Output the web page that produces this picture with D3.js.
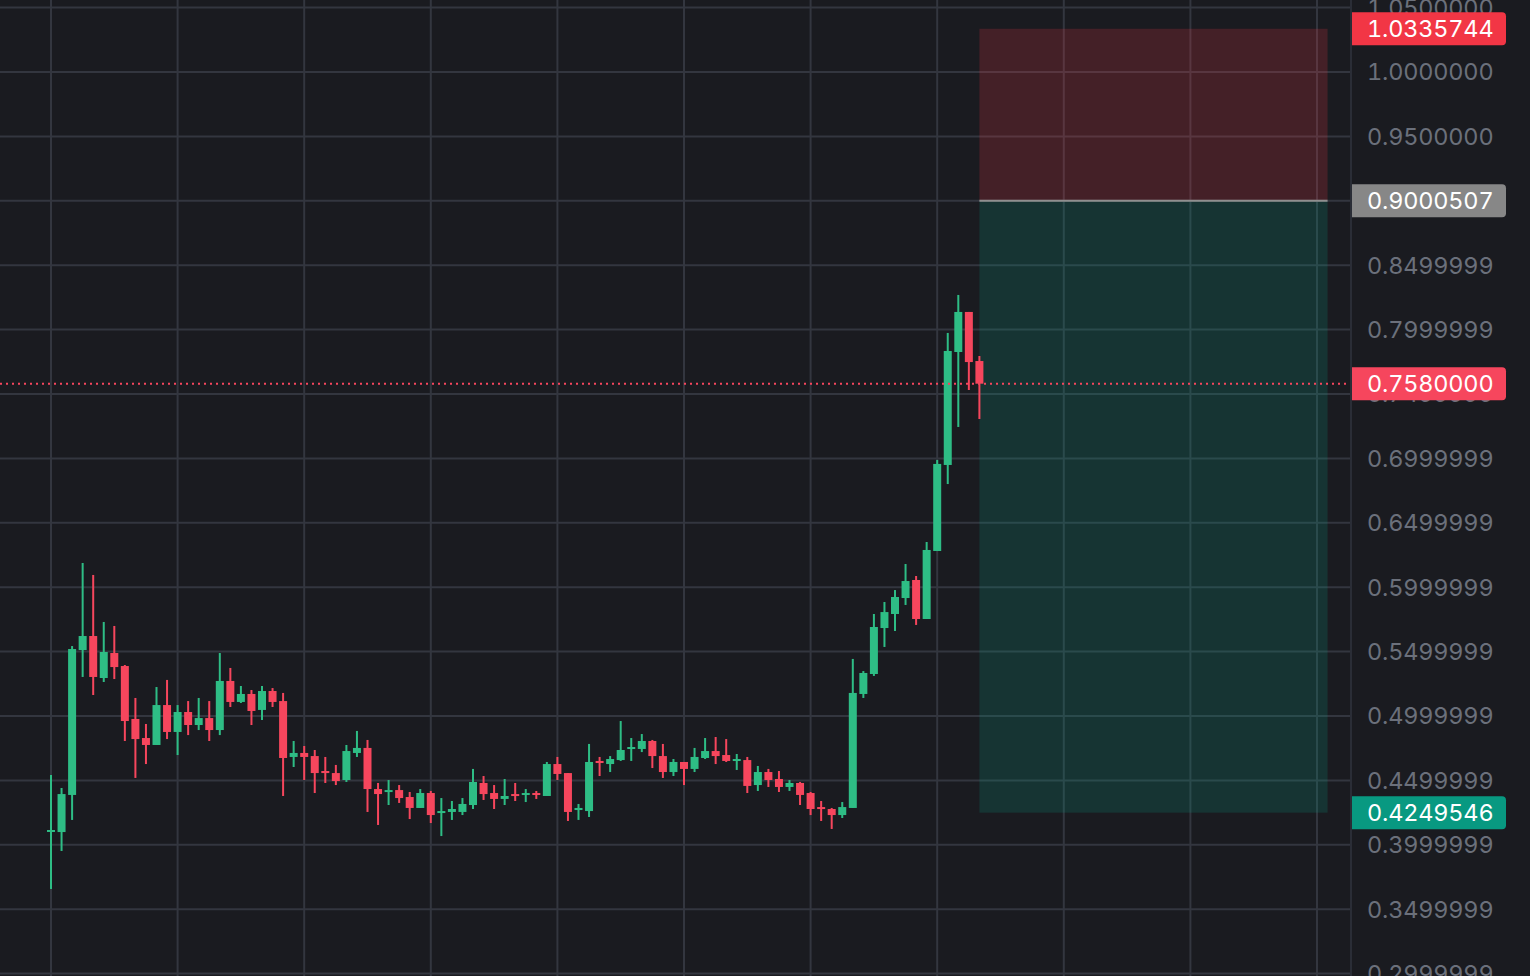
<!DOCTYPE html>
<html>
<head>
<meta charset="utf-8">
<script src="https://cdn.jsdelivr.net/npm/d3@7/dist/d3.min.js"></script>
<style>
	body { margin: 0; background: #1a1b20; overflow: hidden; }
	text { font-family: Inter, Roboto, 'Noto Sans', sans-serif; font-variant-numeric: tabular-nums; letter-spacing: -0.2px; }
</style>
</head>
<body>
<svg id="chart" width="1530" height="976"></svg>
<script>
// candles, oldest first
const opens = [
	0.4107, 0.4099, 0.4387, 0.5512, 0.5621, 0.5295, 0.5489, 0.5388, 0.4977, 0.4829,
	0.4775, 0.5085, 0.4876, 0.5031, 0.4930, 0.4984, 0.4891, 0.5272, 0.5109, 0.5171,
	0.5047, 0.5194, 0.5116, 0.4682, 0.4713, 0.4689, 0.4573, 0.4557, 0.4503, 0.4713,
	0.4752, 0.4433, 0.4410, 0.4425, 0.4371, 0.4286, 0.4402, 0.4247, 0.4255, 0.4255,
	0.4309, 0.4480, 0.4402, 0.4356, 0.4394, 0.4387, 0.4402, 0.4379, 0.4627, 0.4557,
	0.4270, 0.4262, 0.4651, 0.4627, 0.4658, 0.4744, 0.4744, 0.4806, 0.4689, 0.4565,
	0.4643, 0.4589, 0.4674, 0.4728, 0.4697, 0.4651, 0.4658, 0.4464, 0.4565, 0.4511,
	0.4449, 0.4480, 0.4402, 0.4293, 0.4278, 0.4231, 0.4286, 0.5171, 0.5326, 0.5683,
	0.5792, 0.5916, 0.6056, 0.5753, 0.6281, 0.6949, 0.7826, 0.8137, 0.7756
]
const highs = [
	0.4542, 0.4441, 0.5543, 0.6188, 0.6095, 0.5730, 0.5699, 0.5396, 0.5140, 0.4938,
	0.5225, 0.5280, 0.5085, 0.5116, 0.5140, 0.5116, 0.5489, 0.5373, 0.5233, 0.5202,
	0.5233, 0.5217, 0.5179, 0.4806, 0.4767, 0.4736, 0.4682, 0.4620, 0.4775, 0.4884,
	0.4814, 0.4480, 0.4503, 0.4464, 0.4410, 0.4433, 0.4418, 0.4363, 0.4340, 0.4363,
	0.4589, 0.4534, 0.4464, 0.4511, 0.4480, 0.4433, 0.4418, 0.4643, 0.4682, 0.4557,
	0.4317, 0.4783, 0.4682, 0.4689, 0.4961, 0.4829, 0.4860, 0.4814, 0.4783, 0.4666,
	0.4643, 0.4752, 0.4829, 0.4837, 0.4821, 0.4705, 0.4682, 0.4612, 0.4589, 0.4573,
	0.4503, 0.4488, 0.4410, 0.4340, 0.4286, 0.4332, 0.5443, 0.5349, 0.5792, 0.5885,
	0.5978, 0.6180, 0.6087, 0.6351, 0.6988, 0.7974, 0.8269, 0.8137, 0.7795
]
const lows = [
	0.3657, 0.3952, 0.4193, 0.5303, 0.5163, 0.5264, 0.5287, 0.4806, 0.4519, 0.4627,
	0.4775, 0.4821, 0.4697, 0.4852, 0.4891, 0.4806, 0.4852, 0.5070, 0.5101, 0.4930,
	0.4969, 0.5070, 0.4379, 0.4604, 0.4503, 0.4402, 0.4480, 0.4464, 0.4488, 0.4682,
	0.4255, 0.4154, 0.4309, 0.4325, 0.4200, 0.4286, 0.4169, 0.4068, 0.4193, 0.4231,
	0.4278, 0.4348, 0.4278, 0.4309, 0.4340, 0.4332, 0.4356, 0.4379, 0.4503, 0.4185,
	0.4193, 0.4216, 0.4534, 0.4565, 0.4651, 0.4651, 0.4720, 0.4596, 0.4519, 0.4534,
	0.4464, 0.4565, 0.4666, 0.4627, 0.4643, 0.4581, 0.4402, 0.4418, 0.4449, 0.4410,
	0.4418, 0.4309, 0.4231, 0.4185, 0.4123, 0.4208, 0.4286, 0.5140, 0.5311, 0.5536,
	0.5660, 0.5862, 0.5707, 0.5753, 0.6281, 0.6801, 0.7244, 0.7531, 0.7306
]
const closes = [
	0.4115, 0.4394, 0.5520, 0.5621, 0.5303, 0.5497, 0.5380, 0.4961, 0.4821, 0.4775,
	0.5085, 0.4876, 0.5031, 0.4930, 0.4984, 0.4891, 0.5272, 0.5109, 0.5171, 0.5039,
	0.5194, 0.5109, 0.4674, 0.4713, 0.4682, 0.4557, 0.4557, 0.4495, 0.4728, 0.4752,
	0.4433, 0.4394, 0.4425, 0.4363, 0.4286, 0.4402, 0.4231, 0.4262, 0.4278, 0.4317,
	0.4488, 0.4394, 0.4356, 0.4379, 0.4379, 0.4402, 0.4387, 0.4627, 0.4550, 0.4255,
	0.4286, 0.4643, 0.4635, 0.4666, 0.4736, 0.4759, 0.4806, 0.4689, 0.4565, 0.4643,
	0.4589, 0.4682, 0.4728, 0.4689, 0.4651, 0.4666, 0.4457, 0.4565, 0.4503, 0.4449,
	0.4480, 0.4387, 0.4278, 0.4278, 0.4231, 0.4293, 0.5179, 0.5334, 0.5691, 0.5807,
	0.5924, 0.6048, 0.5753, 0.6289, 0.6957, 0.7834, 0.8137, 0.7748, 0.7580
]

// price axis
const tickValues = [1.05, 1.0, 0.95, 0.9, 0.85, 0.8, 0.75, 0.7, 0.65, 0.6, 0.55, 0.5, 0.45, 0.4, 0.35, 0.3]
const tickLabels = [
	'1.0500000', '1.0000000', '0.9500000', '0.8999999', '0.8499999', '0.7999999', '0.7499999', '0.6999999',
	'0.6499999', '0.5999999', '0.5499999', '0.4999999', '0.4499999', '0.3999999', '0.3499999', '0.2999999'
]

// short position tool
const stopPrice = 1.0335744
const entryPrice = 0.9000507
const targetPrice = 0.4249546
const lastPrice = 0.758
const positionStartBar = 88
const positionBars = 33
const gridEvery = 12

const green = '#2ebd85'
const red = '#f6465d'
const gridColor = '#33363f'

const width = 1530,
	height = 976,
	plotRight = 1351

const svg = d3.select('#chart')

const x = d3.scaleLinear().domain([0, 120]).range([51, 1317])
const y = d3.scaleLinear().domain([1.0, 0.3]).range([72, 973.6])

svg.append('rect').attr('width', width).attr('height', height).attr('fill', '#1a1b20')

// grid
const grid = svg.append('g')
grid.selectAll('line.h')
	.data(tickValues)
	.enter()
	.append('line')
	.attr('x1', 0)
	.attr('x2', plotRight)
	.attr('y1', d => y(d))
	.attr('y2', d => y(d))
	.attr('stroke', gridColor)
	.attr('stroke-width', 2)
grid.selectAll('line.v')
	.data(d3.range(0, 121, gridEvery))
	.enter()
	.append('line')
	.attr('x1', d => x(d))
	.attr('x2', d => x(d))
	.attr('y1', 0)
	.attr('y2', height)
	.attr('stroke', gridColor)
	.attr('stroke-width', 2)

// position zones (drawn transparent so the grid shows through)
const px0 = x(positionStartBar),
	px1 = x(positionStartBar + positionBars)
svg.append('rect')
	.attr('x', px0)
	.attr('width', px1 - px0)
	.attr('y', y(stopPrice))
	.attr('height', y(entryPrice) - y(stopPrice))
	.attr('fill', 'rgba(242,54,69,0.2)')
svg.append('rect')
	.attr('x', px0)
	.attr('width', px1 - px0)
	.attr('y', y(entryPrice))
	.attr('height', y(targetPrice) - y(entryPrice))
	.attr('fill', 'rgba(8,153,129,0.2)')
svg.append('line')
	.attr('x1', px0)
	.attr('x2', px1)
	.attr('y1', y(entryPrice))
	.attr('y2', y(entryPrice))
	.attr('stroke', '#8f8f8f')
	.attr('stroke-width', 2)

// candles
const candles = svg.append('g')
	.selectAll('g')
	.data(d3.range(opens.length))
	.enter()
	.append('g')
	.attr('fill', i => (closes[i] >= opens[i] ? green : red))

candles.append('rect')
	.attr('x', i => x(i) - 1)
	.attr('width', 2)
	.attr('y', i => y(highs[i]))
	.attr('height', i => y(lows[i]) - y(highs[i]))

candles.append('rect')
	.attr('x', i => x(i) - 4)
	.attr('width', 8)
	.attr('y', i => y(Math.max(opens[i], closes[i])))
	.attr('height', i => Math.max(2, Math.abs(y(opens[i]) - y(closes[i]))))

// last price dotted line
svg.append('line')
	.attr('x1', 0)
	.attr('x2', plotRight)
	.attr('y1', y(lastPrice))
	.attr('y2', y(lastPrice))
	.attr('stroke', red)
	.attr('stroke-width', 2)
	.attr('stroke-dasharray', '2,4')

// axis panel
svg.append('line')
	.attr('x1', plotRight)
	.attr('x2', plotRight)
	.attr('y1', 0)
	.attr('y2', height)
	.attr('stroke', '#2a2d36')
	.attr('stroke-width', 2)

svg.append('g')
	.selectAll('text')
	.data(tickValues)
	.enter()
	.append('text')
	.attr('x', 1367)
	.attr('y', d => y(d))
	.attr('dy', '0.36em')
	.attr('fill', '#6b707b')
	.attr('font-size', 23.5)
	.text((d, i) => tickLabels[i])

const priceLabels = [
	{ value: stopPrice, color: '#f23645' },
	{ value: entryPrice, color: '#878787' },
	{ value: lastPrice, color: red },
	{ value: targetPrice, color: '#089981' }
]

const tags = svg.append('g')
	.selectAll('g')
	.data(priceLabels)
	.enter()
	.append('g')
	.attr('transform', d => `translate(${plotRight + 1},${y(d.value)})`)

tags.append('path')
	.attr('d', 'M0,-16.5 H150 Q154,-16.5 154,-12.5 V12.5 Q154,16.5 150,16.5 H0 Z')
	.attr('fill', d => d.color)

tags.append('text')
	.attr('x', 15)
	.attr('dy', '0.36em')
	.attr('fill', '#fff')
	.attr('font-size', 23.5)
	.text(d => d.value.toFixed(7))
</script>
</body>
</html>
